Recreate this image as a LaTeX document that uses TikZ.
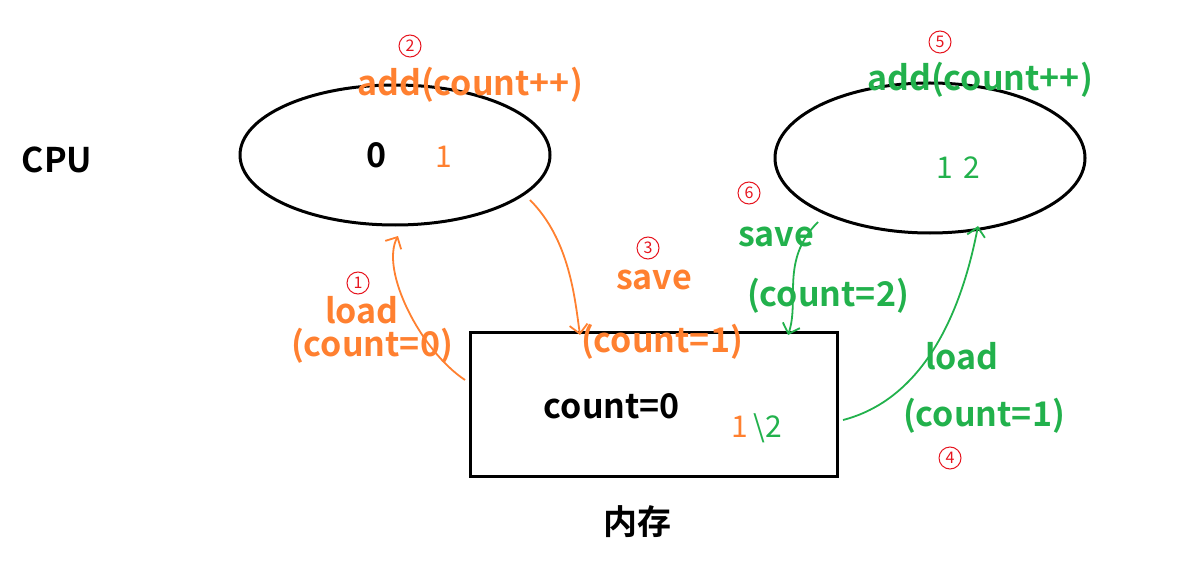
\documentclass[tikz,border=0pt]{standalone}
\usepackage{fontspec}
\setmainfont{Noto Sans CJK SC}[BoldFont={Noto Sans CJK SC Bold}]
\usetikzlibrary{arrows.meta}
\definecolor{org}{RGB}{255,128,48}
\definecolor{grn}{RGB}{34,177,76}
\definecolor{rd}{RGB}{230,20,30}
\begin{document}
\begin{tikzpicture}[x=1pt,y=-1pt,
  lbl/.style={font=\bfseries\fontsize{34}{36}\selectfont},
  olbl/.style={lbl,text=org},
  glbl/.style={lbl,text=grn},
  num/.style={draw=rd,line width=1pt,circle,minimum size=22pt,inner sep=0pt,text=rd,font=\fontsize{16}{16}\selectfont},
  oarr/.style={org,line width=1.8pt,-{Straight Barb[length=9pt]}},
  garr/.style={grn,line width=1.8pt,-{Straight Barb[length=9pt]}}]
\useasboundingbox (0,0) rectangle (1183,588);
\draw[line width=3pt] (395,155) ellipse [x radius=155, y radius=70];
\draw[line width=3pt] (930,158) ellipse [x radius=155, y radius=75];
\node[draw,line width=3pt,minimum width=367,minimum height=144,inner sep=0] (mem) at (653.5,404) {};
\node[lbl] (cpu) at (57,160) {CPU};
\node[lbl] (nc) at (637,522) {内存};
\node[lbl] (cnt) at (612,406) {count=0};
\node[lbl] (z) at (377,155) {0};
\node[org,font=\fontsize{30}{30}\selectfont] (o1) at (444,157) {1};
\node[grn,font=\fontsize{30}{30}\selectfont] (g12) at (958,168) {1\,\,2};
\node[font=\fontsize{30}{30}\selectfont] (m12) at (757,428) {\textcolor{org}{1}\,\textcolor{grn}{\textbackslash 2}};
\node[olbl] (oadd) at (470,85) {add(count++)};
\node[glbl] (gadd) at (980,80) {add(count++)};
\node[olbl] (ol1) at (362,310) {load};
\node[olbl] (ol2) at (372,346) {(count=0)};
\node[olbl] (os1) at (654,280) {save};
\node[olbl] (os2) at (662,342) {(count=1)};
\node[glbl] (gs1) at (776,237) {save};
\node[glbl] (gs2) at (828,296) {(count=2)};
\node[glbl] (gl1) at (962,356) {load};
\node[glbl] (gl2) at (984,416) {(count=1)};
\node[num] (n2) at (410,46) {2};
\node[num] (n5) at (940,42) {5};
\node[num] (n1) at (358,283) {1};
\node[num] (n3) at (648,248) {3};
\node[num] (n6) at (749,193) {6};
\node[num] (n4) at (950,458) {4};
\coordinate (a1s) at (465,380); \coordinate (a1e) at (398,236);
\coordinate (a2s) at (530,200); \coordinate (a2e) at (580,335);
\coordinate (a3s) at (818,222); \coordinate (a3e) at (788,335);
\coordinate (a4s) at (843,420); \coordinate (a4e) at (978,226);
\draw[oarr] (a1s) .. controls (420,350) and (380,270) .. (a1e);
\draw[oarr] (a2s) .. controls (570,240) and (575,300) .. (a2e);
\draw[garr] (a3s) .. controls (780,260) and (800,300) .. (a3e);
\draw[garr] (a4s) .. controls (920,400) and (960,320) .. (a4e);
\end{tikzpicture}
\end{document}
